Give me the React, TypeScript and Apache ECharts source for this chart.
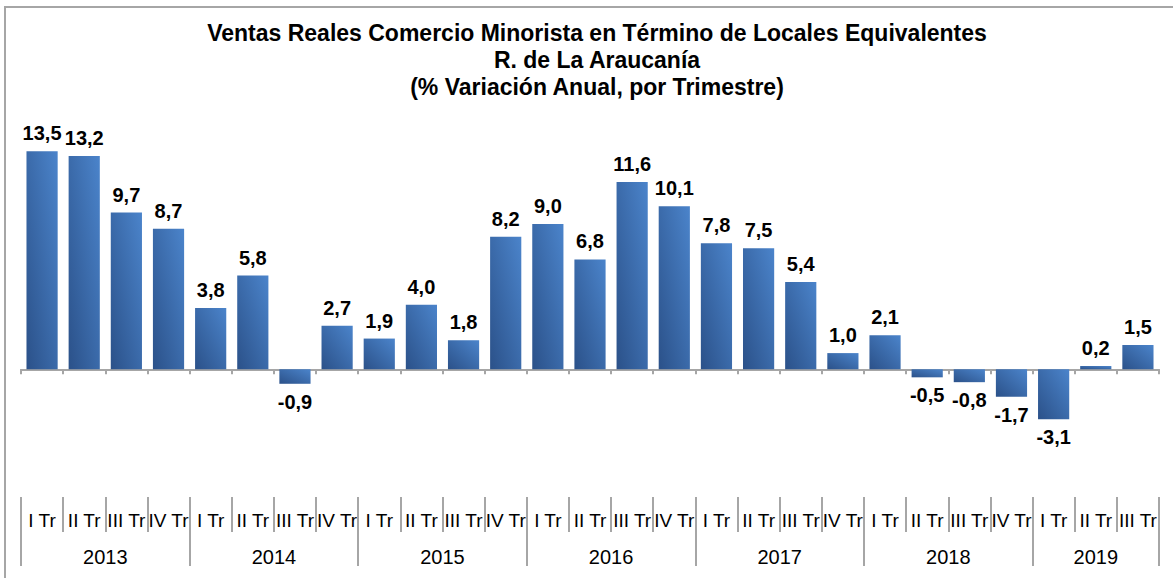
import React, { useEffect, useRef } from "react";
import * as echarts from "echarts";

const quarterNames = ["I Tr", "II Tr", "III Tr", "IV Tr"];
const years = ["2013", "2014", "2015", "2016", "2017", "2018", "2019"];
const quartersPerYear = [4, 4, 4, 4, 4, 4, 3];
const values = [
  13.5, 13.2, 9.7, 8.7,
  3.8, 5.8, -0.9, 2.7,
  1.9, 4.0, 1.8, 8.2,
  9.0, 6.8, 11.6, 10.1,
  7.8, 7.5, 5.4, 1.0,
  2.1, -0.5, -0.8, -1.7,
  -3.1, 0.2, 1.5,
];
const titleLines = [
  "Ventas Reales Comercio Minorista en Término de Locales Equivalentes",
  "R. de La Araucanía",
  "(% Variación Anual, por Trimestre)",
];

const FONT = "'Liberation Sans', Arial, sans-serif";

export default function App() {
  const ref = useRef<HTMLDivElement>(null);
  useEffect(() => {
    if (!ref.current) return;
    const chart = echarts.init(ref.current, null, { renderer: "svg" });

    const categories: string[] = [];
    const yearBounds: number[] = [0];
    const yearCenters: number[] = [];
    let pos = 0;
    quartersPerYear.forEach((n) => {
      for (let i = 0; i < n; i++) categories.push(quarterNames[i]);
      yearCenters.push(pos + n / 2);
      pos += n;
      yearBounds.push(pos);
    });
    const total = categories.length;

    const gray = "#a6a6a6";

    chart.setOption({
      animation: false,
      graphic: [
        {
          type: "rect",
          shape: { x: 5, y: 7, width: 1200, height: 600 },
          style: { fill: "none", stroke: gray, lineWidth: 2 },
          silent: true,
        },
        ...titleLines.map((t, i) => ({
          type: "text",
          x: 597,
          y: 33 + i * 27,
          style: {
            text: t,
            font: `bold 23px ${FONT}`,
            fill: "#000",
            textAlign: "center",
            textVerticalAlign: "middle",
          },
        })),
      ],
      grid: [
        { left: 21, width: 1138, top: 127, height: 323 },
        { left: 21, width: 1138, top: 497, height: 69 },
      ],
      xAxis: [
        {
          type: "category",
          gridIndex: 0,
          data: categories,
          axisLine: { onZero: true, lineStyle: { color: gray, width: 2 } },
          axisTick: { show: true, length: 5, lineStyle: { color: gray, width: 2 } },
          axisLabel: { show: false },
          splitLine: { show: false },
        },
        {
          type: "category",
          gridIndex: 1,
          position: "top",
          data: categories,
          axisLine: { show: false, onZero: false },
          axisTick: { show: true, inside: true, length: 35, lineStyle: { color: gray, width: 2 } },
          axisLabel: {
            show: true,
            inside: true,
            interval: 0,
            margin: 23,
            verticalAlign: "middle",
            color: "#000",
            fontSize: 19,
            fontFamily: FONT,
          },
          splitLine: { show: false },
        },
        {
          type: "value",
          gridIndex: 1,
          position: "bottom",
          min: 0,
          max: total,
          axisLine: { show: false, onZero: false },
          axisTick: { show: false },
          axisLabel: {
            show: true,
            inside: true,
            margin: 9,
            verticalAlign: "middle",
            customValues: yearCenters,
            formatter: (v: number) => {
              const idx = yearCenters.findIndex((c) => Math.abs(c - v) < 1e-6);
              return idx >= 0 ? years[idx] : "";
            },
            color: "#000",
            fontSize: 20,
            fontFamily: FONT,
          },
          splitLine: { show: false },
        },
      ],
      yAxis: [
        { type: "value", gridIndex: 0, min: -5, max: 15, show: false, splitLine: { show: false } },
        { type: "value", gridIndex: 1, min: 0, max: 1, show: false, splitLine: { show: false } },
      ],
      series: [
        {
          type: "bar",
          xAxisIndex: 0,
          yAxisIndex: 0,
          barCategoryGap: "26%",
          itemStyle: {
            color: new echarts.graphic.LinearGradient(0, 1, 1, 0, [
              { offset: 0, color: "#2b5189" },
              { offset: 1, color: "#4b84cb" },
            ]),
          },
          label: {
            show: true,
            distance: 8,
            color: "#000",
            fontWeight: "bold",
            fontSize: 20,
            fontFamily: FONT,
            formatter: (p: any) => Number(p.value).toFixed(1).replace(".", ","),
          },
          data: values.map((v) => ({
            value: v,
            label: { position: v < 0 ? "bottom" : "top" },
          })),
        },
        {
          type: "line",
          xAxisIndex: 2,
          yAxisIndex: 1,
          data: [],
          silent: true,
          markLine: {
            silent: true,
            symbol: ["none", "none"],
            label: { show: false },
            lineStyle: { color: gray, width: 2, type: "solid" },
            data: yearBounds.map((b) => ({ xAxis: b })),
          },
        },
      ],
    });
    return () => chart.dispose();
  }, []);
  return (
    <div
      ref={ref}
      style={{ position: "fixed", left: 0, top: 0, width: 1173, height: 578, background: "#fff" }}
    />
  );
}
